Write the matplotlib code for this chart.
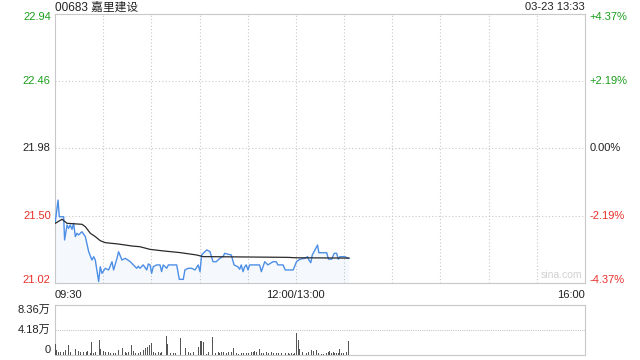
import matplotlib
matplotlib.use("Agg")
import matplotlib.pyplot as plt
import matplotlib.transforms as mtransforms

plt.rcParams["font.family"] = ["Liberation Sans", "Noto Sans CJK SC", "DejaVu Sans"]

title = "00683 嘉里建设"
stamp = "03-23 13:33"
prev_close = 21.98
price_ticks = [22.94, 22.46, 21.98, 21.50, 21.02]
pct_labels = ["+4.37%", "+2.19%", "0.00%", "-2.19%", "-4.37%"]
time_labels = ["09:30", "12:00/13:00", "16:00"]
vol_labels = ["8.36万", "4.18万", "0"]
vol_max = 83600

# trading minutes since 09:30 (afternoon continues at 150 = 13:00)
price_min = [0.2, 1.9, 2.7, 5.4, 6.0, 7.5, 8.5, 9.5, 10.6, 11.6, 12.7, 13.7, 14.7,
             16.8, 18.9, 21.0, 23.0, 24.1, 25.1, 27.2, 28.2, 29.3, 31.3, 33.4,
             35.5, 36.5, 38.6, 39.6, 41.7, 43.8, 46.9, 48.8, 50.9, 51.9, 52.9,
             55.0, 57.1, 58.1, 59.2, 60.2, 61.2, 63.3, 65.4, 66.4, 67.4, 69.6,
             70.6, 72.7, 75.8, 77.4, 79.9, 80.9, 83.0, 85.1, 87.2, 89.2, 90.3,
             91.3, 92.3, 94.5, 96.5, 98.4, 100.4, 102.6, 104.6, 105.7, 107.7,
             109.8, 111.5, 113.9, 115.0, 116.0, 117.1, 118.1, 119.1, 120.2,
             121.2, 122.2, 125.3, 127.4, 128.5, 130.6, 132.6, 135.7, 137.8,
             138.8, 142.0, 143.4, 148.3, 150.4, 152.5, 155.6, 157.3, 158.1,
             159.3, 160.2, 161.9, 163.5, 164.3, 165.6, 169.2, 170.3, 172.3,
             173.9, 175.4, 176.4, 177.5, 179.5, 180.6, 182.3, 183.0]
price = [21.457, 21.612, 21.493, 21.493, 21.327, 21.434, 21.410, 21.434, 21.403,
         21.446, 21.351, 21.375, 21.363, 21.386, 21.351, 21.243, 21.184, 21.208,
         21.184, 21.030, 21.136, 21.089, 21.125, 21.113, 21.172, 21.113, 21.196,
         21.243, 21.184, 21.196, 21.172, 21.149, 21.125, 21.140, 21.125, 21.149,
         21.113, 21.156, 21.149, 21.089, 21.136, 21.149, 21.149, 21.101, 21.149,
         21.125, 21.149, 21.149, 21.149, 21.046, 21.046, 21.113, 21.125, 21.125,
         21.113, 21.149, 21.101, 21.220, 21.232, 21.256, 21.244, 21.172, 21.172,
         21.196, 21.208, 21.232, 21.226, 21.220, 21.149, 21.136, 21.118, 21.149,
         21.101, 21.136, 21.149, 21.113, 21.149, 21.149, 21.149, 21.149, 21.101,
         21.172, 21.149, 21.172, 21.172, 21.149, 21.149, 21.113, 21.113, 21.172,
         21.190, 21.196, 21.208, 21.184, 21.165, 21.220, 21.256, 21.291, 21.236,
         21.236, 21.236, 21.190, 21.190, 21.232, 21.232, 21.190, 21.208, 21.208,
         21.208, 21.196, 21.196]

avg_min = [0.2, 4.4, 7.5, 16.8, 18.9, 22.0, 25.1, 28.2, 31.3, 39.6, 47.9, 52.9,
           59.2, 67.4, 77.8, 88.2, 92.3, 96.5, 116.0, 145.0, 150.0, 183.0]
avg = [21.446, 21.475, 21.446, 21.439, 21.422, 21.375, 21.351, 21.322, 21.308,
       21.298, 21.284, 21.279, 21.260, 21.249, 21.237, 21.220, 21.208, 21.208,
       21.206, 21.203, 21.200, 21.198]

vol_min = [0.2, 1.2, 2.3, 3.3, 4.4, 5.4, 6.4, 8.5, 9.5, 10.6, 12.7, 13.7, 14.7,
           15.8, 16.8, 17.8, 19.5, 20.3, 21.2, 22.0, 23.0, 24.1, 25.1, 26.2,
           27.6, 28.2, 29.3, 30.3, 31.3, 32.4, 33.4, 34.5, 35.5, 36.5, 37.6,
           38.6, 39.6, 41.1, 42.1, 43.8, 44.8, 45.9, 47.9, 49.0, 50.0, 51.1,
           52.1, 53.1, 54.2, 55.2, 56.2, 57.7, 58.7, 60.0, 61.4, 62.5, 63.5,
           64.5, 65.6, 66.6, 67.9, 69.3, 70.2, 71.8, 72.9, 73.9, 75.3, 78.0,
           79.1, 81.2, 82.2, 83.2, 84.3, 85.3, 86.3, 87.8, 89.5, 90.5, 91.3,
           92.4, 93.4, 94.4, 95.5, 96.5, 98.0, 99.0, 100.0, 101.7, 102.7, 103.8,
           104.8, 105.9, 106.9, 107.9, 109.0, 110.0, 111.0, 112.1, 113.1, 114.2,
           115.2, 116.2, 117.3, 118.3, 119.3, 120.4, 121.4, 122.5, 123.5, 124.5,
           125.6, 127.6, 128.7, 129.7, 130.8, 131.8, 132.8, 133.9, 134.9, 135.9,
           137.0, 138.0, 139.1, 140.1, 141.1, 142.6, 143.8, 145.3, 146.3, 147.4,
           148.4, 149.4, 150.5, 151.4, 152.3, 153.2, 154.1, 155.7, 156.7, 157.7,
           158.8, 159.8, 160.9, 161.9, 162.9, 164.0, 165.0, 166.0, 167.1, 168.1,
           169.2, 170.2, 171.2, 172.3, 173.3, 174.3, 175.4, 176.4, 177.3, 178.5,
           179.5, 180.6, 181.6, 182.6]
vol = [17800, 8400, 5600, 4500, 6700, 5600, 8400, 16700, 5600, 8400, 10000, 4500,
       6700, 4500, 2800, 4500, 5600, 6700, 83600, 2800, 21200, 2800, 5600, 6700,
       25000, 10000, 11100, 6700, 4500, 4500, 4500, 2800, 5600, 2800, 2800, 4500,
       8400, 11100, 12300, 5600, 2800, 4500, 16700, 6700, 2800, 4500, 2800, 5600,
       6700, 8400, 11100, 13900, 16700, 19500, 5600, 2800, 2800, 4500, 2800, 4500,
       6700, 31700, 17800, 2800, 2800, 2800, 2800, 29000, 5600, 11100, 4500, 4500,
       2800, 4500, 4500, 45700, 13900, 24000, 23400, 22300, 1100, 1100, 4500, 8400,
       30600, 2800, 2800, 4500, 2800, 5600, 4500, 2800, 2800, 4500, 2800, 4500,
       11100, 2800, 2800, 2200, 2800, 2800, 2800, 2800, 2800, 2800, 4500, 5600,
       4500, 6700, 4500, 10000, 2800, 2800, 2800, 4500, 2800, 8400, 4500, 2800,
       2800, 2800, 2800, 1100, 2800, 26700, 2800, 2800, 1100, 2800, 2200, 2800,
       36200, 25000, 10000, 2800, 5600, 2800, 2800, 5600, 6700, 8400, 6700, 4500,
       8400, 2800, 34500, 1100, 2200, 2800, 2800, 5600, 6700, 2800, 4500, 2800,
       2800, 2800, 10000, 2800, 2800, 2800, 4500, 23400]

green = "#1a9e1a"
red = "#e8302a"
grid_c = "#c8c8c8"

fig = plt.figure(figsize=(6.4, 3.6), dpi=100)
ax = fig.add_axes([0.0859, 0.2139, 0.8281, 0.7472])
vax = fig.add_axes([0.0859, 0.0139, 0.8281, 0.1389])

# price panel
ax.set_xlim(0, 330)
ax.set_ylim(price_ticks[-1], price_ticks[0])
for t in range(30, 330, 30):
    ax.axvline(t, color=grid_c, lw=0.8, ls=(0, (1, 2)), zorder=0)
for p in price_ticks[1:-1]:
    ax.axhline(p, color=grid_c, lw=0.8, ls=(0, (1, 2)), zorder=0)
ax.fill_between(price_min, price, price_ticks[-1], color="#4d8fe6", alpha=0.05, lw=0)
ax.plot(price_min, price, color="#4d8fe6", lw=1.0, zorder=3)
ax.plot(avg_min, avg, color="#2a2a2a", lw=0.9, zorder=4)
ax.set_xticks([])
ax.set_yticks([])
for s in ax.spines.values():
    s.set_color(grid_c)
    s.set_linewidth(0.8)

trans = mtransforms.blended_transform_factory(ax.transAxes, ax.transData)
n = len(price_ticks)
for i, (p, lab) in enumerate(zip(price_ticks, pct_labels)):
    c = green if p > prev_close else (red if p < prev_close else "#222222")
    va = "top" if i == 0 else ("bottom" if i == n - 1 else "center")
    off = -0.012 if i == 0 else (0.012 if i == n - 1 else 0)
    ax.text(-0.008, p - off, f"{p:.2f}", transform=trans, ha="right", va=va,
            color=c, fontsize=8)
    ax.text(1.008, p - off, lab, transform=trans, ha="left", va=va,
            color=c, fontsize=8)

# header texts, centred about 7 px below the top edge
fig.text(0.0859, 1 - 7.5 / 360, title, ha="left", va="center",
         fontsize=8.5, color="#222222")
fig.text(0.914, 1 - 7.5 / 360, stamp, ha="right", va="center",
         fontsize=8, color="#222222")
ax.text(0.995, 0.01, "sina.com", transform=ax.transAxes, ha="right", va="bottom",
        fontsize=7.5, color="#d0d0d0")

for t, lab, ha in zip([0, 150, 330], time_labels, ["left", "center", "right"]):
    ax.text(t, -0.025, lab, transform=mtransforms.blended_transform_factory(
        ax.transData, ax.transAxes), ha=ha, va="top", fontsize=8, color="#222222")

# volume panel
vax.set_xlim(0, 330)
vax.set_ylim(0, vol_max)
vax.axhline(vol_max / 2, color=grid_c, lw=0.8, ls=(0, (1, 1)), zorder=0)
vax.bar(vol_min, vol, width=0.55, color="#555555", zorder=3)
vax.set_xticks([])
vax.set_yticks([])
for k, s in vax.spines.items():
    s.set_color(grid_c)
    s.set_linewidth(0.8)
vax.spines["top"].set_linestyle((0, (1, 1)))
vtrans = mtransforms.blended_transform_factory(vax.transAxes, vax.transData)
vax.text(-0.008, vol_max, vol_labels[0], transform=vtrans, ha="right", va="top",
         fontsize=8, color="#222222")
vax.text(-0.008, vol_max / 2, vol_labels[1], transform=vtrans, ha="right",
         va="center", fontsize=8, color="#222222")
vax.text(-0.008, 0, vol_labels[2], transform=vtrans, ha="right", va="bottom",
         fontsize=8, color="#222222")

fig.savefig("out.png", dpi=100)
